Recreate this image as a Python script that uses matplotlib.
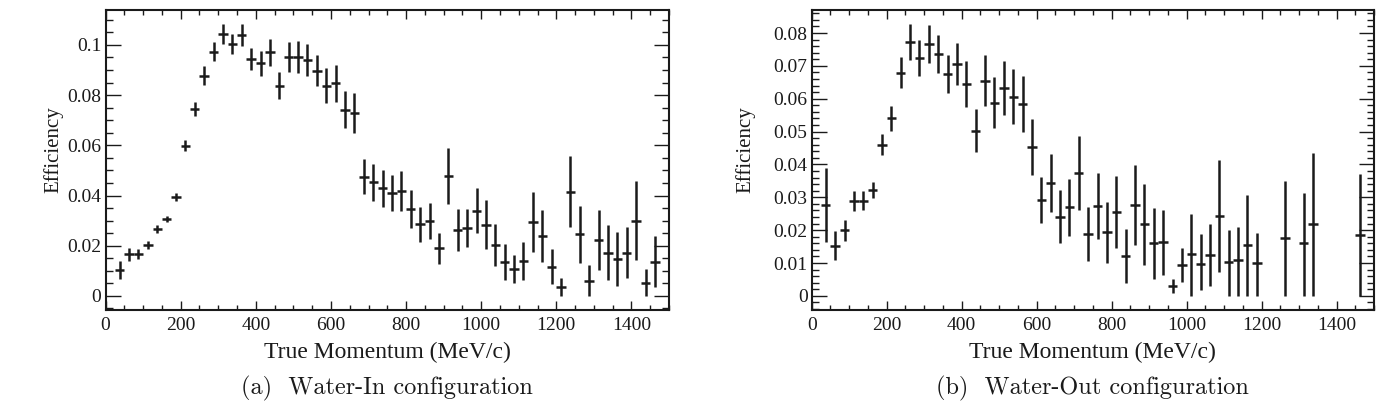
import numpy as np
import matplotlib
matplotlib.use("Agg")
import matplotlib.pyplot as plt
from matplotlib.ticker import MultipleLocator, FuncFormatter

# bin centres, 25 MeV/c wide bins
mom = np.arange(37.5, 1475, 25.0)

# (a) Water-In
eff_in = [0.0104, 0.0166, 0.0166, 0.0202, 0.0266, 0.0306, 0.0394, 0.0599, 0.0744, 0.0878,
          0.0973, 0.1043, 0.1005, 0.1040, 0.0944, 0.0927, 0.0971, 0.0838, 0.0952, 0.0952,
          0.0940, 0.0898, 0.0838, 0.0847, 0.0741, 0.0728, 0.0475, 0.0452, 0.0429, 0.0409,
          0.0418, 0.0347, 0.0286, 0.0300, 0.0189, 0.0478, 0.0263, 0.0270, 0.0340, 0.0283,
          0.0203, 0.0134, 0.0109, 0.0139, 0.0295, 0.0239, 0.0117, 0.0035, 0.0416, 0.0246,
          0.0061, 0.0223, 0.0173, 0.0146, 0.0173, 0.0300, 0.0053, 0.0137]
err_in = [0.0036, 0.0025, 0.0019, 0.0015, 0.0015, 0.0013, 0.0015, 0.0021, 0.0028, 0.0037,
          0.0039, 0.0040, 0.0040, 0.0043, 0.0044, 0.0050, 0.0054, 0.0054, 0.0060, 0.0062,
          0.0062, 0.0063, 0.0071, 0.0073, 0.0074, 0.0080, 0.0070, 0.0074, 0.0073, 0.0071,
          0.0078, 0.0076, 0.0070, 0.0072, 0.0063, 0.0113, 0.0082, 0.0077, 0.0091, 0.0098,
          0.0082, 0.0071, 0.0056, 0.0076, 0.0118, 0.0103, 0.0070, 0.0035, 0.0140, 0.0113,
          0.0061, 0.0120, 0.0108, 0.0108, 0.0102, 0.0156, 0.0053, 0.0100]

# (b) Water-Out (nan = empty bin)
nan = np.nan
eff_out = [0.0277, 0.0153, 0.0199, 0.0289, 0.0289, 0.0322, 0.0460, 0.0540, 0.0679, 0.0772,
           0.0723, 0.0767, 0.0736, 0.0675, 0.0706, 0.0645, 0.0503, 0.0655, 0.0588, 0.0632,
           0.0606, 0.0584, 0.0454, 0.0292, 0.0343, 0.0241, 0.0269, 0.0373, 0.0188, 0.0274,
           0.0193, 0.0255, 0.0122, 0.0277, 0.0218, 0.0160, 0.0163, 0.0030, 0.0094, 0.0128,
           0.0096, 0.0125, 0.0243, 0.0102, 0.0110, 0.0155, 0.0099, nan, nan, 0.0177,
           nan, 0.0160, 0.0219, nan, nan, nan, nan, 0.0186]
err_out_lo = [0.0113, 0.0043, 0.0032, 0.0031, 0.0029, 0.0025, 0.0032, 0.0037, 0.0047, 0.0054,
              0.0055, 0.0057, 0.0058, 0.0057, 0.0064, 0.0071, 0.0066, 0.0078, 0.0077, 0.0083,
              0.0084, 0.0085, 0.0085, 0.0070, 0.0088, 0.0081, 0.0086, 0.0113, 0.0083, 0.0101,
              0.0093, 0.0110, 0.0082, 0.0121, 0.0123, 0.0108, 0.0098, 0.0022, 0.0053, 0.0128,
              0.0079, 0.0095, 0.0170, 0.0102, 0.0110, 0.0155, 0.0099, nan, nan, 0.0177,
              nan, 0.0160, 0.0219, nan, nan, nan, nan, 0.0186]
err_out_hi = [0.0113, 0.0043, 0.0032, 0.0031, 0.0029, 0.0025, 0.0032, 0.0037, 0.0047, 0.0054,
              0.0055, 0.0057, 0.0058, 0.0057, 0.0064, 0.0071, 0.0066, 0.0078, 0.0077, 0.0083,
              0.0084, 0.0085, 0.0085, 0.0070, 0.0088, 0.0081, 0.0086, 0.0113, 0.0083, 0.0101,
              0.0093, 0.0110, 0.0082, 0.0121, 0.0123, 0.0108, 0.0098, 0.0022, 0.0053, 0.0120,
              0.0091, 0.0095, 0.0170, 0.0098, 0.0101, 0.0151, 0.0093, nan, nan, 0.0174,
              nan, 0.0153, 0.0215, nan, nan, nan, nan, 0.0185]

captions = ["(a)  Water-In configuration", "(b)  Water-Out configuration"]

plt.rcParams['font.family'] = ['Liberation Serif', 'DejaVu Serif']

fig = plt.figure(figsize=(13.99, 4.08), dpi=100)
W, H = 1399.0, 408.0
ax1 = fig.add_axes([105.6 / W, 98 / H, 563.4 / W, 300 / H])
ax2 = fig.add_axes([811.7 / W, 98 / H, 562.3 / W, 300 / H])

ink = '#1a1a1a'
ax1.errorbar(mom, eff_in, xerr=12.5, yerr=err_in, fmt='none', ecolor=ink, elinewidth=1.8)
ax2.errorbar(mom, eff_out, xerr=12.5, yerr=[err_out_lo, err_out_hi], fmt='none',
             ecolor=ink, elinewidth=1.8)

ax1.set_ylim(-0.0056, 0.1139)
ax2.set_ylim(-0.0043, 0.0870)
ax1.yaxis.set_major_locator(MultipleLocator(0.02))
ax1.yaxis.set_minor_locator(MultipleLocator(0.005))
ax2.yaxis.set_major_locator(MultipleLocator(0.01))
ax2.yaxis.set_minor_locator(MultipleLocator(0.002))

fmt = FuncFormatter(lambda v, p: '%g' % round(v, 4))
for ax, cap, ylx in zip([ax1, ax2], captions, [-0.075, -0.10]):
    ax.set_xlim(0, 1500)
    ax.xaxis.set_major_locator(MultipleLocator(200))
    ax.xaxis.set_minor_locator(MultipleLocator(50))
    ax.yaxis.set_major_formatter(fmt)
    ax.tick_params(which='both', direction='in', top=True, right=True, width=1.0,
                   labelsize=14, colors=ink)
    ax.tick_params(axis='x', which='major', length=6.5, pad=5)
    ax.tick_params(axis='x', which='minor', length=3.3)
    ax.tick_params(axis='y', which='major', length=10.5, pad=3)
    ax.tick_params(axis='y', which='minor', length=5.3)
    for s in ax.spines.values():
        s.set_linewidth(1.5)
        s.set_color(ink)
    ax.set_xlabel('True Momentum (MeV/c)', fontsize=17, color=ink, labelpad=6)
    ax.set_ylabel('Efficiency', fontsize=15, color=ink)
    ax.yaxis.set_label_coords(ylx, 0.535)
    ax.text(0.5, -0.26, cap, transform=ax.transAxes, ha='center', va='center',
            fontsize=17.5, family='cmr10', color=ink)

fig.savefig('out.png', dpi=100)
